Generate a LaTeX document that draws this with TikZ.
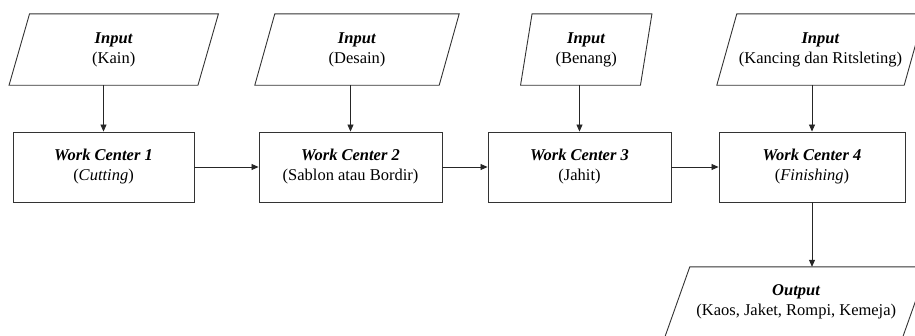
\documentclass[tikz,border=0pt]{standalone}
\usepackage{fontspec}
\setmainfont{Liberation Serif}
\usetikzlibrary{arrows.meta}
\tikzset{
  shp/.style={draw=black!80, line width=0.9pt},
  txt/.style={draw=none, inner sep=0pt, align=center, font=\fontsize{16.5}{20}\selectfont},
  wc/.style={shp, inner sep=0pt, align=center, font=\fontsize{16.5}{20}\selectfont, minimum height=70pt},
  arr/.style={draw=black!85, line width=0.8pt, -{Triangle[length=7pt,width=6pt]}},
}
\newcommand\parashape[2]{%
  \draw[shp] ([xshift=#2]#1.north west) -- ([xshift=#2]#1.north east) --
    ([xshift=-#2]#1.south east) -- ([xshift=-#2]#1.south west) -- cycle;}
\begin{document}
\begin{tikzpicture}[x=1pt,y=-1pt]
\useasboundingbox (0,0) rectangle (915,335);
\clip (0,0) rectangle (915,335);
% inputs
\node[txt, minimum width=188.5pt, minimum height=71pt] (i1) at (113.75,49.5) {\textbf{\textit{Input}}\\(Kain)};
\node[txt, minimum width=184pt, minimum height=71pt] (i2) at (357,49.5) {\textbf{\textit{Input}}\\(Desain)};
\node[txt, minimum width=119.5pt, minimum height=71pt] (i3) at (586.25,49.5) {\textbf{\textit{Input}}\\(Benang)};
\node[txt, minimum width=187pt, minimum height=71pt] (i4) at (820.5,49.5) {\textbf{\textit{Input}}\\(Kancing dan Ritsleting)};
\parashape{i1}{10.25pt}
\parashape{i2}{10pt}
\parashape{i3}{5.75pt}
\parashape{i4}{10pt}
% work centers
\node[wc, minimum width=181pt] (w1) at (103.5,167) {\textbf{\textit{Work Center 1}}\\(\textit{Cutting})};
\node[wc, minimum width=183pt] (w2) at (350.5,167) {\textbf{\textit{Work Center 2}}\\(Sablon atau Bordir)};
\node[wc, minimum width=183pt] (w3) at (579.5,167) {\textbf{\textit{Work Center 3}}\\(Jahit)};
\node[wc, minimum width=186pt] (w4) at (812,167) {\textbf{\textit{Work Center 4}}\\(\textit{Finishing})};
% output
\node[txt, minimum width=237.5pt, minimum height=70pt] (o) at (796.25,302) {\textbf{\textit{Output}}\\(Kaos, Jaket, Rompi, Kemeja)};
\parashape{o}{12.5pt}
% connectors
\draw[arr] (i1.south -| w1.north) -- (w1.north);
\draw[arr] (i2.south -| w2.north) -- (w2.north);
\draw[arr] (i3.south -| w3.north) -- (w3.north);
\draw[arr] (i4.south -| w4.north) -- (w4.north);
\draw[arr] (w1.east) -- (w2.west);
\draw[arr] (w2.east) -- (w3.west);
\draw[arr] (w3.east) -- (w4.west);
\draw[arr] (w4.south) -- (w4.south |- o.north);
\end{tikzpicture}
\end{document}
